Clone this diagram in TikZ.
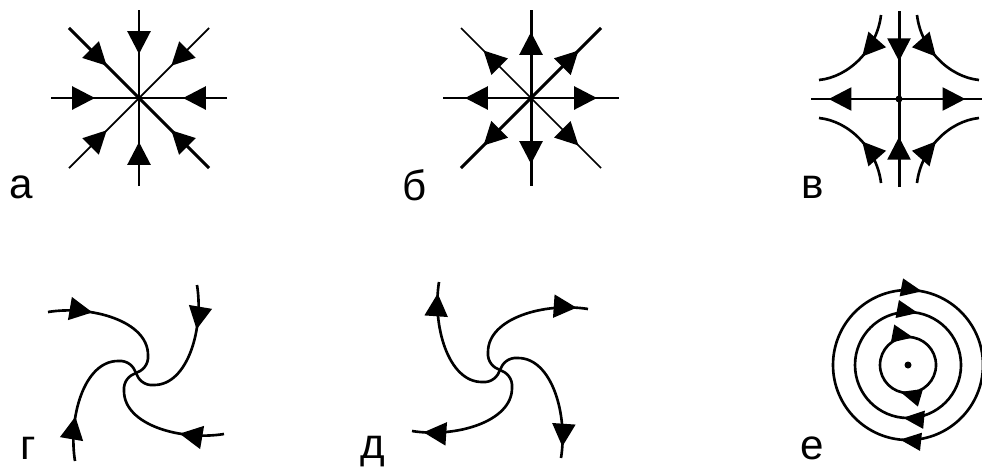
\documentclass[tikz,border=0pt]{standalone}
\usepackage{fontspec}
\setmainfont{Liberation Sans}
\usetikzlibrary{arrows.meta,decorations.markings}

\begin{document}
\begin{tikzpicture}[
    x=0.02cm, y=-0.02cm,
    thickln/.style={line width=1.7pt},
    thinln/.style={line width=1pt},
    curveln/.style={line width=1.5pt},
    tri/.tip={Triangle[length=13pt,width=13pt]},
    ringtri/.tip={Triangle[length=12pt,width=10pt]},
    midtip/.style={postaction={decorate}, decoration={markings,
        mark=at position #1 with {\arrow{tri}}}},
    backtip/.style={postaction={decorate}, decoration={markings,
        mark=at position #1 with {\arrowreversed{tri}}}},
    ringtips/.style 2 args={postaction={decorate}, decoration={markings,
        mark=at position #1 with {\arrow{ringtri}},
        mark=at position #2 with {\arrow{ringtri}}}},
    panellbl/.style={font=\fontsize{24}{28}\selectfont, anchor=base,
        inner sep=0pt, text depth=0pt}
  ]
  \useasboundingbox (0,0) rectangle (982,467);
  \def\spiralarm{(-88,-61) .. controls (-45,-68) and (12,-52) .. (12,-18)
    .. controls (13,-8) and (6,-2) .. (0,0)}

  % а: stable node
  \begin{scope}[shift={(139,98)}]
    \foreach \a in {0,90,180,270}
      \draw[thickln, midtip=0.5] (\a:88) -- (0,0);
    \foreach \a/\w in {45/thickln,135/thinln,225/thickln,315/thinln}
      \draw[\w, midtip=0.54] (\a:99) -- (0,0);
  \end{scope}

  % б: unstable node
  \begin{scope}[shift={(531,98)}]
    \foreach \a in {0,90,180,270}
      \draw[thickln, midtip=0.75] (0,0) -- (\a:88);
    \foreach \a/\w in {45/thinln,135/thickln,225/thinln,315/thickln}
      \draw[\w, midtip=0.68] (0,0) -- (\a:99);
  \end{scope}

  % в: saddle
  \begin{scope}[shift={(899,99)}]
    \foreach \a in {90,270}
      \draw[thickln, midtip=0.57] (\a:88) -- (0,0);
    \foreach \a/\r in {0/83,180/88}
      \draw[thickln, midtip=0.8] (0,0) -- (\a:\r);
    \fill (0,0) circle (3.5);
    \foreach \sx/\sy in {-1/-1,1/-1,-1/1,1/1}
      \draw[curveln, xscale=\sx, yscale=\sy, midtip=0.48]
        (18,84) .. controls (22,50) and (50,22) .. (80,19);
  \end{scope}

  % г: stable focus
  \begin{scope}[shift={(136,373)}]
    \foreach \r in {0,-90,-180,-270}
      \draw[curveln, rotate=\r, midtip=0.31] \spiralarm;
  \end{scope}

  % д: unstable focus
  \begin{scope}[shift={(500,370)}]
    \foreach \r in {0,-90,-180,-270}
      \draw[curveln, xscale=-1, rotate=\r, backtip=0.08] \spiralarm;
  \end{scope}

  % е: centre
  \begin{scope}[shift={(908,365)}]
    \foreach \r/\pt/\pb in {75/0.78/0.267,53/0.78/0.265,28/0.78/0.295}
      \draw[curveln, ringtips={\pb}{\pt}]
        (\r,0) .. controls (\r,{0.5523*\r}) and ({0.5523*\r},\r) .. (0,\r)
        .. controls ({-0.5523*\r},\r) and (-\r,{0.5523*\r}) .. (-\r,0)
        .. controls (-\r,{-0.5523*\r}) and ({-0.5523*\r},-\r) .. (0,-\r)
        .. controls ({0.5523*\r},-\r) and (\r,{-0.5523*\r}) .. (\r,0);
    \fill (0,0) circle (3.5);
  \end{scope}

  \node[panellbl] (lbla) at (21.5,198) {а};
  \node[panellbl] (lblb) at (415,200) {б};
  \node[panellbl] (lblv) at (813,198) {в};
  \node[panellbl] (lblg) at (28,459) {г};
  \node[panellbl] (lbld) at (373,458) {д};
  \node[panellbl] (lble) at (812,459) {е};
\end{tikzpicture}
\end{document}
